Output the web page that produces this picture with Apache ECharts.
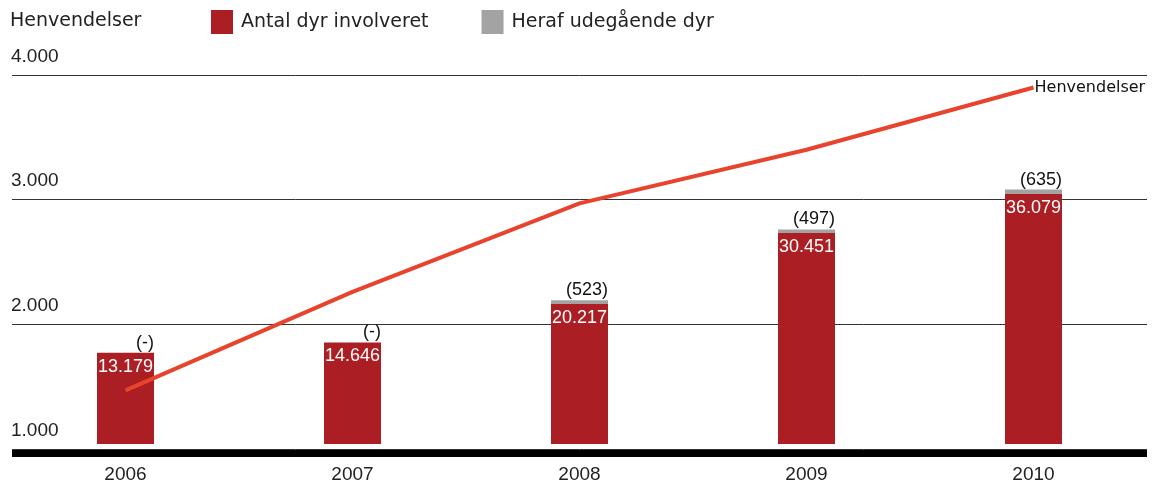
<!DOCTYPE html>
<html lang="da">
<head>
    <meta charset="UTF-8">
    <title>Henvendelser og dyr involveret</title>
    <script src="https://cdn.jsdelivr.net/npm/echarts@6/dist/echarts.min.js"></script>
    <style>
        html, body { margin: 0; padding: 0; background: #fff; }
        #chart { width: 1153px; height: 484px; }
    </style>
</head>
<body>
    <div id="chart"></div>
    <script>
        // data
        const years = ['2006', '2007', '2008', '2009', '2010'];
        const henvendelser = [1470, 2260, 2970, 3400, 3900];
        const dyrInvolveret = [13179, 14646, 20217, 30451, 36079];
        const udegaaende = [0, 0, 523, 497, 635];
        const yTicks = [1000, 2000, 3000, 4000];

        const numFont = 'Liberation Sans';
        const txtFont = 'DejaVu Sans';

        // 13179 -> "13.179"
        function fmt(n) {
            return String(n).replace(/\B(?=(\d{3})+(?!\d))/g, '.');
        }

        const chart = echarts.init(document.getElementById('chart'));
        const option = {
            animation: false,
            title: {
                text: 'Henvendelser',
                left: 10,
                top: 12,
                padding: 0,
                textStyle: { fontFamily: txtFont, fontSize: 19, fontWeight: 'normal', color: '#222' }
            },
            legend: {
                data: ['Antal dyr involveret', 'Heraf udegående dyr'],
                left: 211,
                top: 10,
                padding: 0,
                icon: 'rect',
                itemWidth: 22,
                itemHeight: 24,
                itemGap: 53,
                textStyle: { fontFamily: txtFont, fontSize: 19, color: '#222', padding: [0, 0, 0, 3] }
            },
            grid: { left: 12, right: 6, top: 75, bottom: 34 },
            xAxis: {
                type: 'category',
                data: years,
                offset: 4,
                axisLine: { onZero: false, lineStyle: { color: '#000', width: 7, cap: 'butt' } },
                axisTick: { show: false },
                axisLabel: { fontFamily: numFont, fontSize: 19, color: '#222', margin: 12 }
            },
            yAxis: [
                {
                    type: 'value',
                    min: yTicks[0],
                    max: yTicks[yTicks.length - 1],
                    interval: 1000,
                    axisLine: { show: false },
                    axisTick: { show: false },
                    splitLine: { lineStyle: { color: '#333', width: 1 } },
                    axisLabel: {
                        inside: true,
                        margin: -1,
                        verticalAlign: 'bottom',
                        padding: [0, 0, 9, 0],
                        fontFamily: numFont,
                        fontSize: 19,
                        color: '#222',
                        formatter: v => fmt(v)
                    }
                },
                {
                    // hidden scale for the animal counts
                    type: 'value',
                    min: -720,
                    max: 53240,
                    show: false,
                    splitLine: { show: false }
                }
            ],
            series: [
                {
                    name: 'Antal dyr involveret',
                    type: 'bar',
                    stack: 'dyr',
                    yAxisIndex: 1,
                    barWidth: 57,
                    data: dyrInvolveret,
                    itemStyle: { color: '#ab1e23' },
                    label: {
                        show: true,
                        position: 'insideTop',
                        distance: 5,
                        color: '#fff',
                        fontFamily: numFont,
                        fontSize: 18,
                        formatter: p => fmt(p.value)
                    }
                },
                {
                    name: 'Heraf udegående dyr',
                    type: 'bar',
                    stack: 'dyr',
                    yAxisIndex: 1,
                    barWidth: 57,
                    data: udegaaende,
                    itemStyle: { color: '#a3a3a3' },
                    label: {
                        show: true,
                        position: [57, -1],
                        align: 'right',
                        verticalAlign: 'bottom',
                        color: '#111',
                        fontFamily: numFont,
                        fontSize: 18,
                        formatter: p => p.value ? '(' + fmt(p.value) + ')' : '(-)'
                    }
                },
                {
                    name: 'Henvendelser',
                    type: 'line',
                    yAxisIndex: 0,
                    data: henvendelser,
                    symbol: 'none',
                    lineStyle: { color: '#e8432c', width: 4 },
                    itemStyle: { color: '#e8432c' },
                    z: 3,
                    endLabel: {
                        show: true,
                        distance: 1,
                        formatter: 'Henvendelser',
                        color: '#111',
                        fontFamily: txtFont,
                        fontSize: 16
                    }
                }
            ]
        };
        chart.setOption(option);
    </script>
</body>
</html>
